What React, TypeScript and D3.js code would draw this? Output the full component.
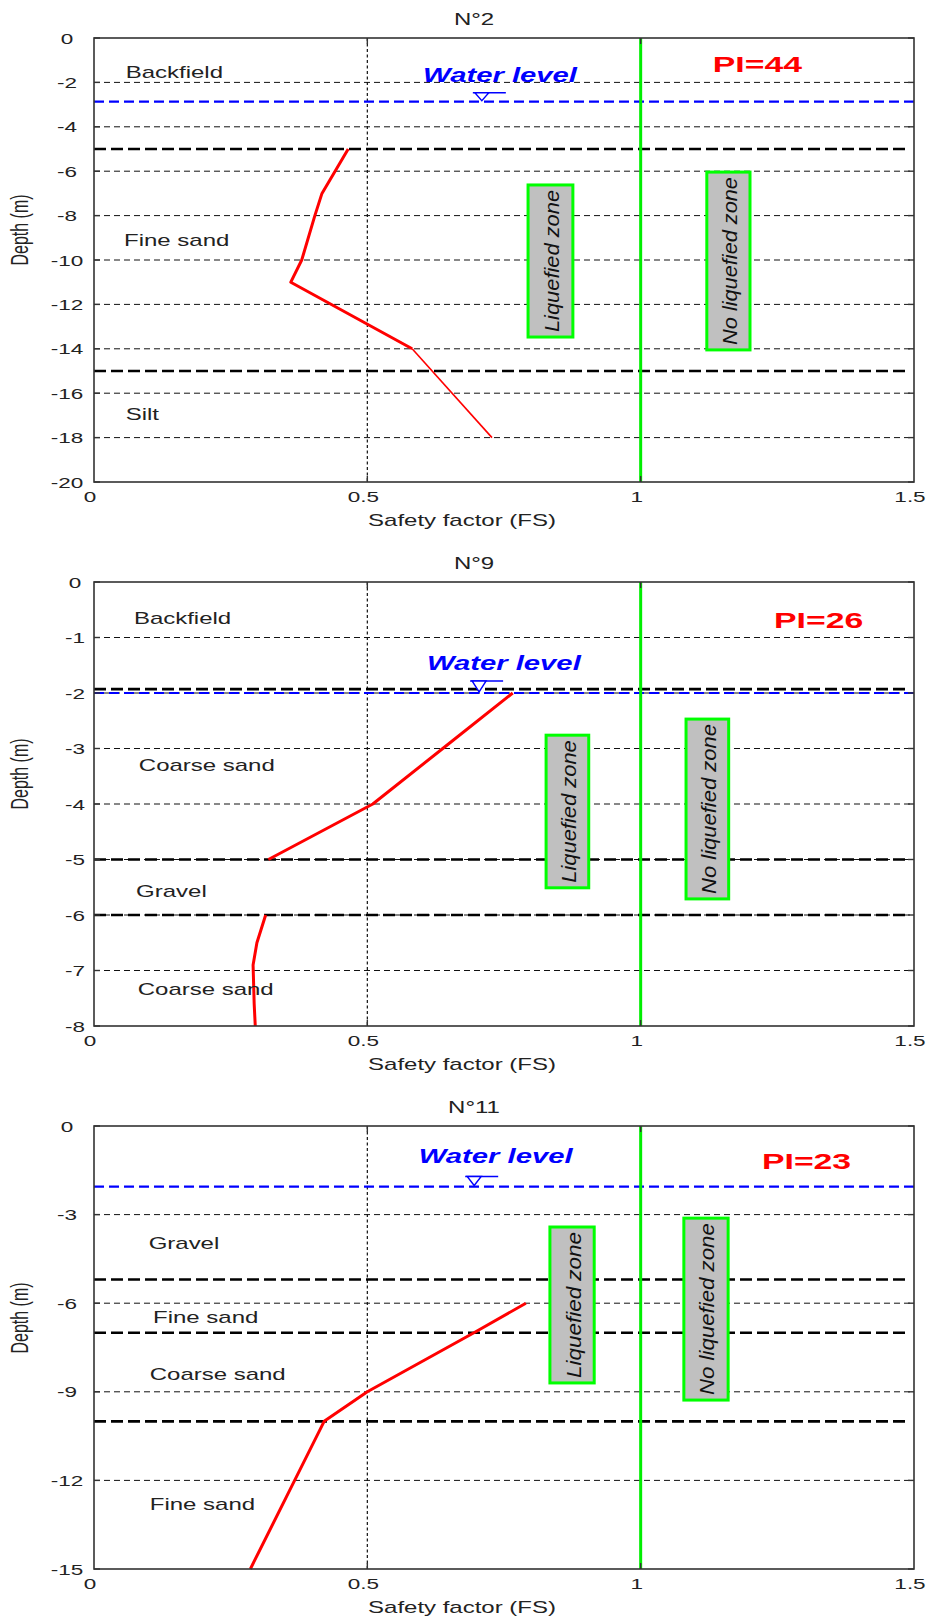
import * as d3 from "d3"

const W = 935
const H = 1623
const X0 = 94
const X1 = 914

const xTicks = [0, 0.5, 1, 1.5]
const xTickText = ["0", "0.5", "1", "1.5"]
const xGrid = [0.5]
const fsLimit = 1

// N°2
const n2Ticks = [0, -2, -4, -6, -8, -10, -12, -14, -16, -18, -20]
const n2Bounds = [-5, -15]
const n2Water = -2.87
const n2Main = [[0.465, -5], [0.441, -6], [0.417, -7], [0.404, -8], [0.38, -10], [0.36, -11], [0.582, -14]]
const n2Thin = [[0.582, -14], [0.728, -18]]
const n2Layers = [["Backfield", 0.058, -1.8], ["Fine sand", 0.055, -9.37], ["Silt", 0.058, -17.2]]

// N°9
const n9Ticks = [0, -1, -2, -3, -4, -5, -6, -7, -8]
const n9Bounds = [-1.93, -5, -6]
const n9Water = -2.0
const n9Upper = [[0.766, -2], [0.638, -3], [0.51, -4], [0.319, -5]]
const n9Lower = [[0.314, -6], [0.298, -6.5], [0.291, -6.9], [0.293, -7.6], [0.295, -8]]
const n9Layers = [["Backfield", 0.073, -0.76], ["Coarse sand", 0.082, -3.41], ["Gravel", 0.077, -5.68], ["Coarse sand", 0.08, -7.44]]

// N°11
const n11Ticks = [0, -3, -6, -9, -12, -15]
const n11Bounds = [-5.2, -7, -10]
const n11Water = -2.05
const n11Main = [[0.79, -6], [0.695, -7], [0.5, -9], [0.421, -10], [0.286, -15]]
const n11Layers = [["Gravel", 0.1, -4.17], ["Fine sand", 0.108, -6.67], ["Coarse sand", 0.102, -8.6], ["Fine sand", 0.102, -13.0]]

const panels = [
  {
    title: "N°2", top: 38, bottom: 482, yMin: -20, ticks: n2Ticks, labelX: 67,
    bounds: n2Bounds, water: n2Water,
    profiles: [{ pts: n2Main, w: 3 }, { pts: n2Thin, w: 1.6 }],
    layers: n2Layers, pi: "PI=44", piAt: [1.132, -1.53], waterAt: [0.602, -1.98], symAt: 0.693, symUp: 9,
    liq: [0.794, 0.876, -6.62, -13.47], noLiq: [1.121, 1.2, -6.04, -14.05],
  },
  {
    title: "N°9", top: 582, bottom: 1026, yMin: -8, ticks: n9Ticks, labelX: 75,
    bounds: n9Bounds, water: n9Water,
    profiles: [{ pts: n9Upper, w: 3 }, { pts: n9Lower, w: 3 }],
    layers: n9Layers, pi: "PI=26", piAt: [1.244, -0.83], waterAt: [0.609, -1.585], symAt: 0.688, symUp: 12,
    liq: [0.827, 0.905, -2.76, -5.51], noLiq: [1.083, 1.161, -2.47, -5.71],
  },
  {
    title: "N°11", top: 1126, bottom: 1569, yMin: -15, ticks: n11Ticks, labelX: 67,
    bounds: n11Bounds, water: n11Water,
    profiles: [{ pts: n11Main, w: 3 }],
    layers: n11Layers, pi: "PI=23", piAt: [1.222, -1.46], waterAt: [0.594, -1.25], symAt: 0.679, symUp: 10,
    liq: [0.834, 0.915, -3.42, -8.7], noLiq: [1.079, 1.16, -3.12, -9.28],
  },
]

const FONT = "'Liberation Sans', Arial, sans-serif"
const INK = "#222"

// MATLAB-like wide text: stretched horizontally
const ST = ({ x, y, size, anchor = "start", weight = "normal", italic = false, fill = INK, children }: any) => (
  <text
    transform={`translate(${x},${y}) scale(1.5,1)`}
    fontSize={size}
    fontFamily={FONT}
    fontWeight={weight}
    fontStyle={italic ? "italic" : "normal"}
    textAnchor={anchor}
    fill={fill}
  >
    {children}
  </text>
)

const ZoneBox = ({ x, y, b, label }: any) => {
  const x0 = x(b[0]), x1 = x(b[1])
  const y0 = y(b[2]), y1 = y(b[3])
  const cx = (x0 + x1) / 2, cy = (y0 + y1) / 2
  return (
    <g>
      <rect x={x0} y={y0} width={x1 - x0} height={y1 - y0} fill="#c0c0c0" stroke="#00ff00" strokeWidth={3} />
      <text
        transform={`translate(${cx + 1},${cy}) rotate(-90)`}
        fontSize={21}
        fontFamily={FONT}
        fontStyle="italic"
        textAnchor="middle"
        dominantBaseline="central"
        textLength={y1 - y0 - 10}
        lengthAdjust="spacingAndGlyphs"
        fill="#111"
      >
        {label}
      </text>
    </g>
  )
}

function Panel({ p }: any) {
  const x = d3.scaleLinear([0, 1.5], [X0, X1])
  const y = d3.scaleLinear([p.yMin, 0], [p.bottom, p.top])
  const line = d3.line<number[]>().x(d => x(d[0])).y(d => y(d[1]))
  const wy = y(p.water)
  const sx = x(p.symAt)
  const su = p.symUp

  return (
    <g>
      {/* horizontal grid */}
      {p.ticks.filter((t: number) => t !== 0 && t !== p.yMin).map((t: number) => (
        <line key={"g" + t} x1={X0} x2={X1} y1={y(t)} y2={y(t)} stroke="#111" strokeWidth={1} strokeDasharray="6,4" />
      ))}
      {xGrid.map(v => (
        <line key={"v" + v} x1={x(v)} x2={x(v)} y1={p.top} y2={p.bottom} stroke="#111" strokeWidth={1.2} strokeDasharray="3,2.5" />
      ))}
      {/* layer boundaries */}
      {p.bounds.map((b: number) => (
        <line key={"b" + b} x1={X0} x2={X1 - 4} y1={y(b)} y2={y(b)} stroke="#000" strokeWidth={2.6} strokeDasharray="12,5" />
      ))}
      {/* water level */}
      <line x1={X0} x2={X1} y1={wy} y2={wy} stroke="#0000ff" strokeWidth={2.2} strokeDasharray="10,5" />
      <line x1={sx} x2={sx + 33} y1={wy - su} y2={wy - su} stroke="#0000ff" strokeWidth={1.6} />
      <path d={`M${sx + 2},${wy - su} L${sx + 16},${wy - su} L${sx + 9},${wy - 1} Z`} fill="#fff" stroke="#0000ff" strokeWidth={1.4} />
      {/* safety factor profiles */}
      {p.profiles.map((pr: any, i: number) => (
        <path key={"p" + i} d={line(pr.pts) || ""} fill="none" stroke="#ff0000" strokeWidth={pr.w} strokeLinejoin="round" />
      ))}
      {/* FS = 1 */}
      <line x1={x(fsLimit)} x2={x(fsLimit)} y1={p.top} y2={p.bottom} stroke="#00ee00" strokeWidth={3} />
      <ZoneBox x={x} y={y} b={p.liq} label="Liquefied zone" />
      <ZoneBox x={x} y={y} b={p.noLiq} label="No liquefied zone" />
      {/* annotations */}
      {p.layers.map((l: any, i: number) => (
        <ST key={"l" + i} x={x(l[1])} y={y(l[2])} size={16}>{l[0]}</ST>
      ))}
      <ST x={x(p.waterAt[0])} y={y(p.waterAt[1])} size={19.5} weight="bold" italic fill="#0000ff">Water level</ST>
      <ST x={x(p.piAt[0])} y={y(p.piAt[1])} size={22.5} weight="bold" fill="#ff0000">{p.pi}</ST>
      {/* frame */}
      <rect x={X0} y={p.top} width={X1 - X0} height={p.bottom - p.top} fill="none" stroke="#333" strokeWidth={1.6} />
      {xTicks.slice(1, -1).map(v => (
        <g key={"xt" + v}>
          <line x1={x(v)} x2={x(v)} y1={p.bottom} y2={p.bottom - 6} stroke="#333" strokeWidth={1.4} />
          <line x1={x(v)} x2={x(v)} y1={p.top} y2={p.top + 6} stroke="#333" strokeWidth={1.4} />
        </g>
      ))}
      {p.ticks.map((t: number) => (
        <g key={"yt" + t}>
          <line x1={X0} x2={X0 + 6} y1={y(t)} y2={y(t)} stroke="#333" strokeWidth={1.4} />
          <line x1={X1} x2={X1 - 6} y1={y(t)} y2={y(t)} stroke="#333" strokeWidth={1.4} />
          <ST x={p.labelX} y={y(t) + 5.5} size={15} anchor="middle">{String(t)}</ST>
        </g>
      ))}
      {xTicks.map((v, i) => (
        <ST key={"xl" + v} x={x(v) - 4} y={p.bottom + 20} size={15} anchor="middle">{xTickText[i]}</ST>
      ))}
      <ST x={462} y={p.bottom + 44} size={16} anchor="middle">Safety factor (FS)</ST>
      <ST x={474} y={p.top - 13} size={16} anchor="middle">{p.title}</ST>
      <text
        transform={`translate(28,${p.top + 192}) rotate(-90) scale(1,1.5)`}
        fontSize={16}
        fontFamily={FONT}
        textAnchor="middle"
        fill={INK}
      >
        Depth (m)
      </text>
    </g>
  )
}

export default function App() {
  return (
    <svg
      width={W}
      height={H}
      viewBox={`0 0 ${W} ${H}`}
      style={{ position: "absolute", left: 0, top: 0, background: "#fff", display: "block" }}
    >
      <rect width={W} height={H} fill="#fff" />
      {panels.map(p => <Panel key={p.title} p={p} />)}
    </svg>
  )
}
